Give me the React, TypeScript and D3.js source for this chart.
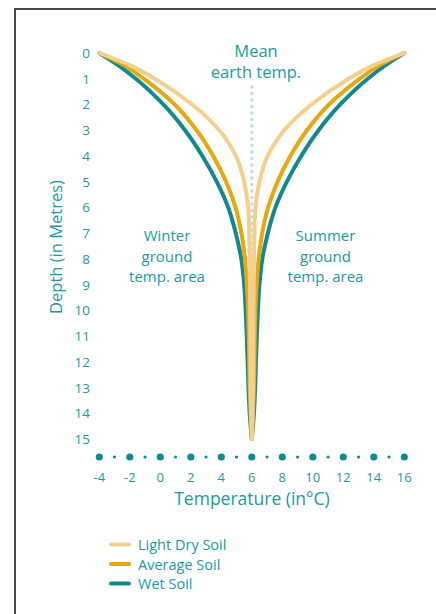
import React from "react";
import * as d3 from "d3";

// depth in metres, temperatures (°C)
const depths = [0, 0.5, 1, 2, 3, 4, 5, 6, 7, 8, 9, 10, 11, 12, 13, 14, 15];

const lightWinter = [-4, -1.9, -0.36, 2.09, 3.87, 4.96, 5.5, 5.76, 5.83, 5.86, 5.88, 5.89, 5.9, 5.91, 5.92, 5.95, 6];
const lightSummer = [16, 13.9, 12.36, 9.91, 8.13, 7.04, 6.5, 6.24, 6.17, 6.14, 6.12, 6.11, 6.1, 6.09, 6.08, 6.05, 6];
const avgWinter = [-4, -2.3, -1.09, 0.94, 2.38, 3.47, 4.31, 4.93, 5.32, 5.55, 5.68, 5.76, 5.8, 5.83, 5.86, 5.92, 6];
const avgSummer = [16, 14.3, 13.09, 11.06, 9.62, 8.53, 7.69, 7.07, 6.68, 6.45, 6.32, 6.24, 6.2, 6.17, 6.14, 6.08, 6];
const wetWinter = [-4, -2.7, -1.6, 0.2, 1.62, 2.76, 3.7, 4.45, 4.95, 5.31, 5.5, 5.6, 5.67, 5.73, 5.78, 5.86, 6];
const wetSummer = [16, 14.7, 13.6, 11.8, 10.38, 9.24, 8.3, 7.55, 7.05, 6.69, 6.5, 6.4, 6.33, 6.27, 6.22, 6.14, 6];

const depthTicks = d3.range(0, 16);
const tempDots = d3.range(-4, 17);
const tempLabels = [-4, -2, 0, 2, 4, 6, 8, 10, 12, 14, 16];
const meanTemp = 6;

const soils = [
  { name: "Wet Soil", color: "#13898f", winter: wetWinter, summer: wetSummer },
  { name: "Average Soil", color: "#e6a710", winter: avgWinter, summer: avgSummer },
  { name: "Light Dry Soil", color: "#f3d08d", winter: lightWinter, summer: lightSummer },
];
const legendOrder = ["Light Dry Soil", "Average Soil", "Wet Soil"];

const textColor = "#2199a0";
const font = "'Open Sans', sans-serif";

const App = () => {
  const width = 436;
  const height = 614;

  const x = d3.scaleLinear().domain([-4, 16]).range([99.3, 404.3]);
  const y = d3.scaleLinear().domain([0, 15]).range([53, 439]);

  const line = d3
    .line<[number, number]>()
    .x((d) => x(d[0]))
    .y((d) => y(d[1]))
    .curve(d3.curveMonotoneY);

  return (
    <svg
      width={width}
      height={height}
      style={{ position: "absolute", left: 0, top: 0, background: "#fff" }}
      fontFamily={font}
    >
      {/* frame */}
      <path d={`M15,${height} V9 H${width}`} fill="none" stroke="#4a4a4a" strokeWidth={2} />

      {/* mean earth temp dotted line */}
      <line
        x1={x(meanTemp)}
        x2={x(meanTemp)}
        y1={87}
        y2={y(15)}
        stroke="#bcdde0"
        strokeWidth={3.4}
        strokeLinecap="round"
        strokeDasharray="0 6.5"
      />
      <text x={256} y={56.5} textAnchor="middle" fontSize={16.5} fill={textColor}>Mean</text>
      <text x={256} y={78} textAnchor="middle" fontSize={16.5} fill={textColor}>earth temp.</text>

      {/* curves */}
      {soils.map((s) => (
        <g key={s.name}>
          {[s.winter, s.summer].map((vals, i) => (
            <path
              key={i}
              d={line(depths.map((dp, j) => [vals[j], dp]) as [number, number][]) || ""}
              fill="none"
              stroke={s.color}
              strokeWidth={4}
              strokeLinecap="round"
            />
          ))}
        </g>
      ))}

      {/* area labels */}
      {["Winter", "ground", "temp. area"].map((t, i) => (
        <text key={"w" + i} x={167} y={241 + i * 20.5} textAnchor="middle" fontSize={15} fill={textColor}>{t}</text>
      ))}
      {["Summer", "ground", "temp. area"].map((t, i) => (
        <text key={"s" + i} x={325.5} y={241 + i * 20.5} textAnchor="middle" fontSize={15} fill={textColor}>{t}</text>
      ))}

      {/* depth axis */}
      {depthTicks.map((d) => (
        <text key={d} x={90} y={y(d) + 5} textAnchor="end" fontSize={13.5} fill={textColor}>{d}</text>
      ))}
      <text
        transform={`translate(62,247) rotate(-90)`}
        textAnchor="middle"
        fontSize={16.5}
        fill={textColor}
      >
        Depth (in Metres)
      </text>

      {/* temperature axis */}
      {tempDots.map((t) => (
        <circle key={t} cx={x(t)} cy={457} r={t % 2 === 0 ? 3.6 : 1.6} fill="#13898f" />
      ))}
      {tempLabels.map((t) => (
        <text key={t} x={x(t)} y={482} textAnchor="middle" fontSize={13} fill={textColor}>{t}</text>
      ))}
      <text x={252} y={505} textAnchor="middle" fontSize={17.5} fill={textColor}>Temperature (in°C)</text>

      {/* legend */}
      {legendOrder.map((name, i) => {
        const s = soils.find((d) => d.name === name)!;
        const ly = 544.5 + i * 19.5;
        return (
          <g key={name}>
            <line x1={111} x2={129} y1={ly} y2={ly} stroke={s.color} strokeWidth={4} strokeLinecap="round" />
            <text x={138} y={ly + 5.5} fontSize={14.5} fill={textColor}>{name}</text>
          </g>
        );
      })}
    </svg>
  );
};

export default App;
